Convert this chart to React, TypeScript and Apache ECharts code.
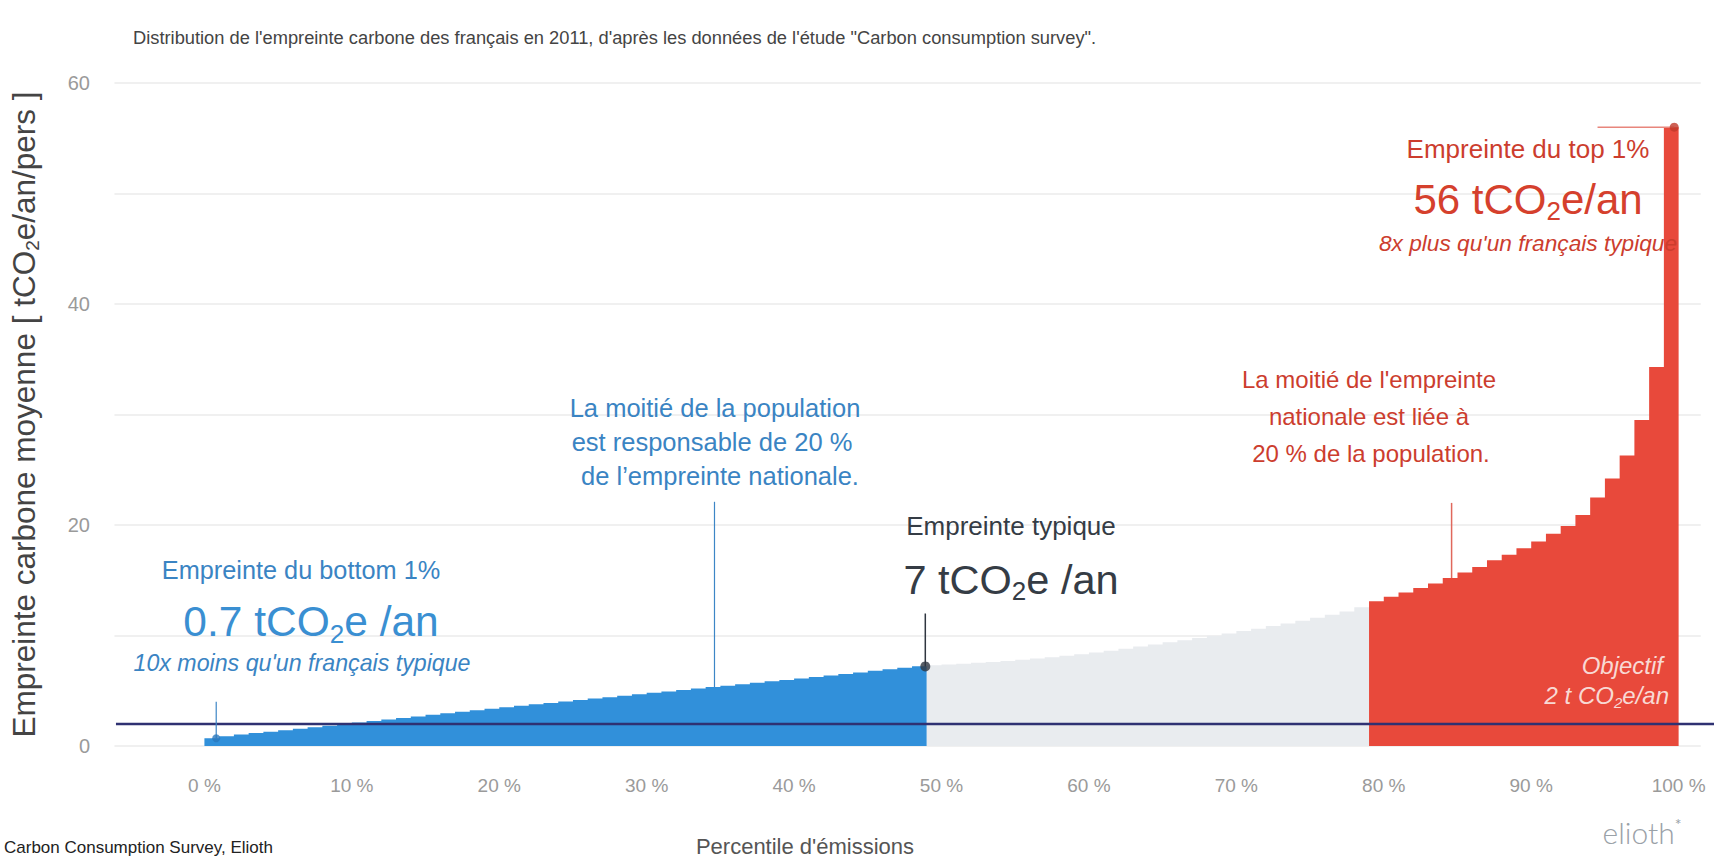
import React, { useEffect, useRef } from 'react';
import * as echarts from 'echarts';

// ---- Data (percentile bars: percentile k spans [k-1, k]) ----
const blueValues = [0.70, 0.88, 1.03, 1.17, 1.30, 1.43, 1.56, 1.70, 1.84, 1.98, 2.12, 2.26, 2.40, 2.54, 2.68, 2.82, 2.96, 3.10, 3.24, 3.38, 3.51, 3.64, 3.77, 3.90, 4.03, 4.16, 4.29, 4.42, 4.55, 4.68, 4.81, 4.94, 5.07, 5.20, 5.33, 5.46, 5.59, 5.72, 5.85, 5.98, 6.11, 6.24, 6.38, 6.52, 6.66, 6.80, 6.94, 7.08, 7.22];
const grayValues = [7.30, 7.37, 7.45, 7.53, 7.61, 7.70, 7.80, 7.91, 8.03, 8.16, 8.30, 8.46, 8.63, 8.81, 9.00, 9.19, 9.38, 9.58, 9.78, 9.98, 10.18, 10.40, 10.62, 10.85, 11.08, 11.33, 11.60, 11.88, 12.18, 12.55];
const redValues = [13.1, 13.5, 13.9, 14.3, 14.7, 15.2, 15.7, 16.2, 16.8, 17.3, 17.9, 18.5, 19.2, 19.9, 20.9, 22.5, 24.2, 26.3, 29.5, 34.3, 56.0];
const blueStart = 0;
const grayStart = 49;
const redStart = 79;

const yGridValues = [0, 10, 20, 30, 40, 50, 60];
const yLabelValues = [0, 20, 40, 60];
const xTickValues = [0, 10, 20, 30, 40, 50, 60, 70, 80, 90, 100];
const objective = 2;

const bottomPoint = [0.8, 0.7];
const typicalPoint = [48.9, 7.2];
const topPoint = [99.7, 56];
const bottomLeader = [[0.8, 4.0], [0.8, 0.7]];
const halfPopLeader = [[34.6, 22.1], [34.6, 5.33]];
const typicalLeader = [[48.9, 12.0], [48.9, 7.2]];
const halfFootLeader = [[84.6, 22.0], [84.6, 15.2]];
const topLeader = [[94.5, 56], [99.7, 56]];

const FONT = '"Liberation Sans", Arial, Helvetica, sans-serif';
const BLUE = '#3190da';
const GRAY = '#e9ecef';
const RED = '#e8493b';
const NAVY = '#2f3172';
const BLUE_TXT = '#3a84c3';
const RED_TXT = '#cc3d2e';
const DARK_TXT = '#353c45';

const X_MIN = -10;
const X_MAX = 102.4;

function stepData(vals: number[], start: number) {
  const d = vals.map((v, i) => [start + i, v]);
  d.push([start + vals.length, vals[vals.length - 1]]);
  return d;
}

function txt(text: string, x: number, y: number, size: number, color: string, opts: any = {}) {
  return {
    type: 'text',
    x,
    y,
    silent: true,
    z: 100,
    style: {
      text,
      fill: color,
      font: `${opts.italic ? 'italic ' : ''}${opts.weight || 'normal'} ${size}px ${opts.family || FONT}`,
      align: opts.align || 'center',
      verticalAlign: opts.vAlign || 'middle',
      textAlign: opts.align || 'center',
      textVerticalAlign: opts.vAlign || 'middle',
    },
  };
}

function co2(prefix: string, suffix: string, x: number, y: number, size: number, color: string, opts: any = {}) {
  const fs = opts.italic ? 'italic' : 'normal';
  const lh = Math.round(size * 1.2);
  const sub = Math.round(size * 0.62);
  return {
    type: 'text',
    x,
    y,
    silent: true,
    z: 100,
    style: {
      text: `{a|${prefix}}{s|2}{a|${suffix}}`,
      align: opts.align || 'center',
      verticalAlign: 'middle',
      textAlign: opts.align || 'center',
      textVerticalAlign: 'middle',
      rich: {
        a: { fontSize: size, fontFamily: FONT, fontStyle: fs, fill: color, lineHeight: lh, verticalAlign: 'middle' },
        s: { fontSize: sub, fontFamily: FONT, fontStyle: fs, fill: color, lineHeight: sub, verticalAlign: 'bottom' },
      },
    },
  };
}

function leader(data: number[][], color: string, width: number) {
  return {
    type: 'line',
    data,
    symbol: 'none',
    silent: true,
    z: 6,
    lineStyle: { color, width },
  };
}

export default function App() {
  const ref = useRef<HTMLDivElement>(null);

  useEffect(() => {
    document.body.style.margin = '0';
    const chart = echarts.init(ref.current!, null, { renderer: 'svg' });
    const option: any = {
      animation: false,
      backgroundColor: '#ffffff',
      title: {
        text: "Distribution de l'empreinte carbone des français en 2011, d'après les données de l'étude \"Carbon consumption survey\".",
        left: 128,
        top: 23,
        textStyle: { fontFamily: FONT, fontSize: 18.3, fontWeight: 'normal', color: '#444' },
      },
      grid: { left: 53, right: 0, top: 83, bottom: 113 },
      xAxis: {
        type: 'value',
        min: X_MIN,
        max: X_MAX,
        interval: 10,
        axisLine: { show: false },
        axisTick: { show: false },
        splitLine: { show: false },
        axisLabel: {
          margin: 30,
          fontFamily: FONT,
          fontSize: 19,
          color: '#9a9a9a',
          formatter: (v: number) => (xTickValues.indexOf(v) >= 0 ? `${v} %` : ''),
        },
      },
      yAxis: {
        type: 'value',
        min: 0,
        max: 60,
        interval: 10,
        offset: -41,
        axisLine: { show: false },
        axisTick: { show: false },
        splitLine: { show: false },
        axisLabel: {
          margin: 8,
          fontFamily: FONT,
          fontSize: 20,
          color: '#9a9a9a',
          formatter: (v: number) => (yLabelValues.indexOf(v) >= 0 ? `${v}` : ''),
        },
        name: '{a|Empreinte carbone moyenne [ tCO}{s|2}{a|e/an/pers ]}',
        nameLocation: 'middle',
        nameGap: 56,
        nameTextStyle: {
          rich: {
            a: { fontFamily: FONT, fontSize: 31.5, color: '#444', lineHeight: 36, verticalAlign: 'middle' },
            s: { fontFamily: FONT, fontSize: 19, color: '#444', lineHeight: 19, verticalAlign: 'bottom' },
          },
        },
      },
      series: [
        {
          type: 'line',
          data: [],
          silent: true,
          z: 1,
          markLine: {
            silent: true,
            z: 1,
            symbol: 'none',
            label: { show: false },
            lineStyle: { color: '#ebebeb', width: 1.5, type: 'solid' },
            data: yGridValues.map((v) => [{ coord: [-6.1, v] }, { coord: [101.5, v] }]),
          },
        },
        {
          type: 'line', step: 'end', symbol: 'none', silent: true, z: 2,
          data: stepData(blueValues, blueStart),
          lineStyle: { width: 0, opacity: 0 },
          areaStyle: { color: BLUE, opacity: 1 },
        },
        {
          type: 'line', step: 'end', symbol: 'none', silent: true, z: 2,
          data: stepData(grayValues, grayStart),
          lineStyle: { width: 0, opacity: 0 },
          areaStyle: { color: GRAY, opacity: 1 },
        },
        {
          type: 'line', step: 'end', symbol: 'none', silent: true, z: 2,
          data: stepData(redValues, redStart),
          lineStyle: { width: 0, opacity: 0 },
          areaStyle: { color: RED, opacity: 1 },
        },
        {
          type: 'line',
          data: [[-6, objective], [X_MAX, objective]],
          symbol: 'none',
          silent: true,
          z: 5,
          lineStyle: { color: NAVY, width: 2.5 },
        },
        leader(bottomLeader, '#3d86c6', 1.2),
        leader(halfPopLeader, '#3d86c6', 1.2),
        leader(typicalLeader, '#2f3640', 1.5),
        leader(halfFootLeader, '#e0685c', 1.5),
        leader(topLeader, '#e8867c', 1.5),
        {
          type: 'scatter', silent: true, z: 7, symbolSize: 8,
          data: [bottomPoint], itemStyle: { color: '#2a78bd' },
        },
        {
          type: 'scatter', silent: true, z: 7, symbolSize: 10,
          data: [typicalPoint], itemStyle: { color: '#2f3640' },
        },
        {
          type: 'scatter', silent: true, z: 7, symbolSize: 9,
          data: [topPoint], itemStyle: { color: '#c0392b' },
        },
      ],
      graphic: [
        // bottom 1%
        txt('Empreinte du bottom 1%', 301, 570, 25.3, BLUE_TXT),
        co2('0.7 tCO', 'e /an', 311, 621, 42.5, '#3a8fd2'),
        txt("10x moins qu'un français typique", 302, 663, 23.2, BLUE_TXT, { italic: true }),
        // half population
        txt('La moitié de la population', 715, 408, 25.5, BLUE_TXT),
        txt('est responsable de 20 %', 712, 442, 25.5, BLUE_TXT),
        txt("de l\u2019empreinte nationale.", 720, 476, 25.5, BLUE_TXT),
        // typical
        txt('Empreinte typique', 1011, 526, 26, DARK_TXT),
        co2('7 tCO', 'e /an', 1011, 579, 41.5, DARK_TXT),
        // top 1%
        txt('Empreinte du top 1%', 1528, 149, 26, RED_TXT),
        co2('56 tCO', 'e/an', 1528, 199, 42, '#d5402d'),
        txt("8x plus qu'un français typique", 1528, 243, 22.7, RED_TXT, { italic: true }),
        // half footprint
        txt("La moitié de l'empreinte", 1369, 379, 24, RED_TXT),
        txt('nationale est liée à', 1369, 416, 24, RED_TXT),
        txt('20 % de la population.', 1371, 453, 24, RED_TXT),
        // objective
        txt('Objectif', 1663, 665, 24, '#f8d9d4', { italic: true, align: 'right' }),
        co2('2 t CO', 'e/an', 1669, 695, 24, '#f8d9d4', { italic: true, align: 'right' }),
        // axis name, source, logo
        txt("Percentile d'émissions", 805, 846, 22, '#555'),
        txt('Carbon Consumption Survey, Elioth', 4, 839, 17, '#222', { align: 'left', vAlign: 'top' }),
        {
          type: 'text',
          x: 1642,
          y: 832,
          silent: true,
          z: 100,
          style: {
            text: '{a|elioth}{s|*}',
            align: 'center',
            verticalAlign: 'middle',
            textAlign: 'center',
            textVerticalAlign: 'middle',
            rich: {
              a: { fontSize: 30, fontFamily: 'Lato, "Liberation Sans", sans-serif', fontWeight: 300, fill: '#9aa1a7', lineHeight: 34, verticalAlign: 'middle' },
              s: { fontSize: 16, fontFamily: 'Lato, sans-serif', fill: '#9aa1a7', lineHeight: 16, verticalAlign: 'top' },
            },
          },
        },
      ],
    };
    chart.setOption(option);
    return () => chart.dispose();
  }, []);

  return (
    <div
      ref={ref}
      style={{ position: 'absolute', left: 0, top: 0, width: '1717px', height: '859px', overflow: 'hidden' }}
    />
  );
}
